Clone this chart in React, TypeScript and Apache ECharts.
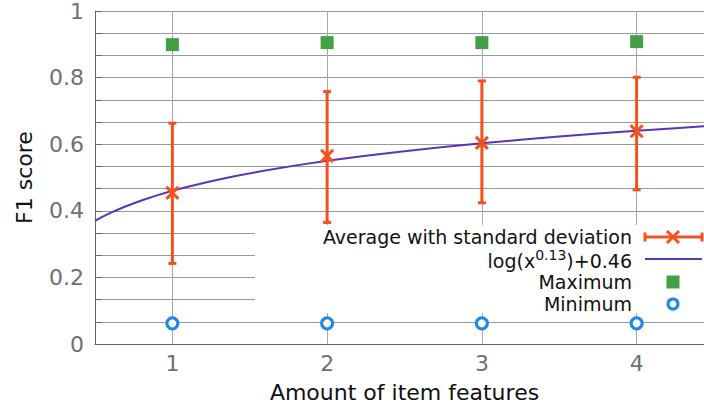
import React, { useEffect, useRef } from "react";
import * as echarts from "echarts";

const featureCounts = [1, 2, 3, 4];
const averageF1 = [0.454, 0.565, 0.604, 0.639];
const lowerF1 = [0.242, 0.365, 0.424, 0.463];
const upperF1 = [0.663, 0.758, 0.79, 0.801];
const maximumF1 = [0.899, 0.905, 0.905, 0.908];
const minimumF1 = [0.062, 0.062, 0.062, 0.062];
const xTicks = [1, 2, 3, 4];
const fitExponent = 0.13;
const fitOffset = 0.46;
const fitSampleX = [0.5, 0.55, 0.6, 0.65, 0.7, 0.8, 0.9, 1, 1.1, 1.25, 1.4, 1.6, 1.8, 2, 2.25, 2.5, 2.75, 3, 3.25, 3.5, 3.75, 4, 4.25, 4.5];
const legendLabels = ["Average with standard deviation", "log(x^0.13)+0.46", "Maximum", "Minimum"];

const ORANGE = "#F4511E";
const PURPLE = "#5E35B1";
const GREEN = "#43A047";
const BLUE = "#1E88E5";
const FONT = "DejaVu Sans";

export default function App() {
  const ref = useRef<HTMLDivElement>(null);
  useEffect(() => {
    if (!ref.current) return;
    const chart = echarts.init(ref.current, undefined, { renderer: "svg" });
    const fitData = fitSampleX.map((x) => [x, Math.log(Math.pow(x, fitExponent)) + fitOffset]);
    const errData = featureCounts.map((x, i) => [x, lowerF1[i], upperF1[i], averageF1[i]]);
    const lx = 632;
    const iconL = 645;
    const iconR = 702;
    const iconC = 673;
    const rows = [237, 259, 282, 304];
    const textStyleBase = { fontFamily: FONT, fontSize: 19, fill: "#111", textAlign: "right", textVerticalAlign: "middle" };
    chart.setOption({
      animation: false,
      grid: { left: 95, top: 11, width: 619, height: 333, containLabel: false, outerBoundsMode: "none" },
      xAxis: {
        type: "value",
        min: 0.5,
        max: 4.5,
        name: "Amount of item features",
        nameLocation: "middle",
        nameGap: 37,
        nameTextStyle: { fontFamily: FONT, fontSize: 22, color: "#111" },
        axisLine: { show: true, lineStyle: { color: "#666", width: 1 } },
        axisTick: { show: false, customValues: xTicks },
        axisLabel: { customValues: xTicks, fontFamily: FONT, fontSize: 22, color: "#707070", margin: 8 },
        splitLine: { show: true, lineStyle: { color: "#a8a8a8", width: 1 } },
      },
      yAxis: {
        type: "value",
        min: 0,
        max: 1,
        interval: 0.2,
        name: "F1 score",
        nameLocation: "middle",
        nameGap: 60,
        nameTextStyle: { fontFamily: FONT, fontSize: 22, color: "#111" },
        axisLine: { show: true, lineStyle: { color: "#666", width: 1 } },
        axisTick: { show: true, inside: true, length: 7, lineStyle: { color: "#666" } },
        minorTick: { show: true, splitNumber: 3, length: 7, lineStyle: { color: "#666" } },
        axisLabel: { fontFamily: FONT, fontSize: 22, color: "#707070", margin: 11 },
        splitLine: { show: true, lineStyle: { color: "#999", width: 1 } },
        minorSplitLine: { show: true, lineStyle: { color: "#999", width: 1 } },
      },
      series: [
        {
          type: "line",
          name: legendLabels[1],
          data: fitData,
          showSymbol: false,
          smooth: false,
          lineStyle: { color: PURPLE, width: 2 },
          z: 3,
        },
        {
          type: "custom",
          name: legendLabels[0],
          data: errData,
          encode: { x: 0, y: [1, 2, 3] },
          z: 4,
          renderItem: (params: any, api: any) => {
            const x = api.value(0);
            const top = api.coord([x, api.value(2)]);
            const bot = api.coord([x, api.value(1)]);
            const mid = api.coord([x, api.value(3)]);
            const cap = 4;
            const s = 6;
            const style = { stroke: ORANGE, lineWidth: 3 };
            return {
              type: "group",
              children: [
                { type: "line", shape: { x1: top[0], y1: top[1], x2: bot[0], y2: bot[1] }, style },
                { type: "line", shape: { x1: top[0] - cap, y1: top[1], x2: top[0] + cap, y2: top[1] }, style },
                { type: "line", shape: { x1: bot[0] - cap, y1: bot[1], x2: bot[0] + cap, y2: bot[1] }, style },
                { type: "line", shape: { x1: mid[0] - s, y1: mid[1] - s, x2: mid[0] + s, y2: mid[1] + s }, style },
                { type: "line", shape: { x1: mid[0] - s, y1: mid[1] + s, x2: mid[0] + s, y2: mid[1] - s }, style },
              ],
            };
          },
        },
        {
          type: "scatter",
          name: legendLabels[2],
          data: featureCounts.map((x, i) => [x, maximumF1[i]]),
          symbol: "rect",
          symbolSize: 13,
          itemStyle: { color: GREEN, opacity: 1 },
          z: 4,
        },
        {
          type: "scatter",
          name: legendLabels[3],
          data: featureCounts.map((x, i) => [x, minimumF1[i]]),
          symbol: "circle",
          symbolSize: 11,
          itemStyle: { color: "#fff", borderColor: BLUE, borderWidth: 3, opacity: 1 },
          z: 4,
        },
      ],
      graphic: [
        { type: "rect", z: 1, shape: { x: 255, y: 225, width: 460, height: 88 }, style: { fill: "#fff" } },
        { type: "text", z: 5, x: lx, y: rows[0], style: { ...textStyleBase, text: legendLabels[0] } },
        {
          type: "text",
          z: 5,
          x: lx,
          y: rows[1],
          style: {
            ...textStyleBase,
            text: "{n|log(x}{s|0.13}{n|)+0.46}",
            rich: {
              n: { fontFamily: FONT, fontSize: 19, fill: "#111", verticalAlign: "bottom", lineHeight: 22 },
              s: { fontFamily: FONT, fontSize: 14, fill: "#111", verticalAlign: "bottom", lineHeight: 16, padding: [0, 0, 8, 0] },
            },
          },
        },
        { type: "text", z: 5, x: lx, y: rows[2], style: { ...textStyleBase, text: legendLabels[2] } },
        { type: "text", z: 5, x: lx, y: rows[3], style: { ...textStyleBase, text: legendLabels[3] } },
        { type: "line", z: 5, shape: { x1: iconL, y1: rows[0], x2: iconR, y2: rows[0] }, style: { stroke: ORANGE, lineWidth: 3 } },
        { type: "line", z: 5, shape: { x1: iconL, y1: rows[0] - 4.5, x2: iconL, y2: rows[0] + 4.5 }, style: { stroke: ORANGE, lineWidth: 3 } },
        { type: "line", z: 5, shape: { x1: iconR, y1: rows[0] - 4.5, x2: iconR, y2: rows[0] + 4.5 }, style: { stroke: ORANGE, lineWidth: 3 } },
        { type: "line", z: 5, shape: { x1: iconC - 6, y1: rows[0] - 6, x2: iconC + 6, y2: rows[0] + 6 }, style: { stroke: ORANGE, lineWidth: 3 } },
        { type: "line", z: 5, shape: { x1: iconC - 6, y1: rows[0] + 6, x2: iconC + 6, y2: rows[0] - 6 }, style: { stroke: ORANGE, lineWidth: 3 } },
        { type: "line", z: 5, shape: { x1: iconL, y1: rows[1], x2: iconR, y2: rows[1] }, style: { stroke: PURPLE, lineWidth: 2 } },
        { type: "rect", z: 5, shape: { x: iconC - 6.5, y: rows[2] - 6.5, width: 13, height: 13 }, style: { fill: GREEN } },
        { type: "circle", z: 5, shape: { cx: iconC, cy: rows[3], r: 5 }, style: { fill: "#fff", stroke: BLUE, lineWidth: 3 } },
      ],
    });
    return () => chart.dispose();
  }, []);
  return <div ref={ref} style={{ width: 704, height: 406, position: "absolute", left: 0, top: 0 }} />;
}
